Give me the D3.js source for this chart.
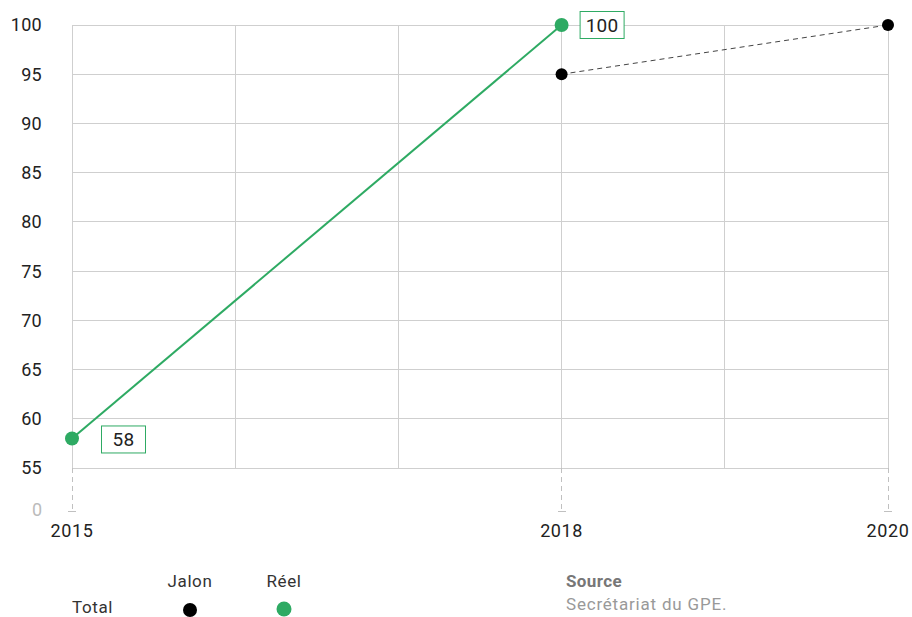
<!DOCTYPE html>
<html><head><meta charset="utf-8">
<script src="https://cdn.jsdelivr.net/npm/d3@7"></script>
<style>
body{margin:0;background:#fff;}
text{font-family:"Roboto","DejaVu Sans",sans-serif;}
</style></head>
<body><svg id="c" width="912" height="617"></svg>
<script>
const years = [2015, 2016, 2017, 2018, 2019, 2020];
const xTickYears = [2015, 2018, 2020];
const yTicks = [55, 60, 65, 70, 75, 80, 85, 90, 95, 100];
const reelYears = [2015, 2018];
const reelValues = [58, 100];
const jalonYears = [2018, 2020];
const jalonValues = [95, 100];
const legendLabels = ["Jalon", "Réel"];
const rowLabel = "Total";
const sourceTitle = "Source";
const sourceText = "Secrétariat du GPE.";

const svg = d3.select("#c");
const x = d3.scaleLinear().domain([2015, 2020]).range([72, 888]);
const y = d3.scaleLinear().domain([55, 100]).range([468, 25]);
const green = "#2eaa63";
const grid = "#cfcfcf";

svg.append("g").selectAll("line").data(yTicks).join("line")
  .attr("x1", x(2015)).attr("x2", x(2020))
  .attr("y1", d => y(d)).attr("y2", d => y(d))
  .attr("stroke", grid).attr("stroke-width", 1).attr("shape-rendering","crispEdges");
svg.append("g").selectAll("line").data(years).join("line")
  .attr("x1", d => x(d)).attr("x2", d => x(d))
  .attr("y1", y(100)).attr("y2", y(55))
  .attr("stroke", grid).attr("stroke-width", 1).attr("shape-rendering","crispEdges");

svg.append("g").selectAll("text").data(yTicks).join("text")
  .attr("x", 42).attr("y", d => y(d)).attr("dy", "0.36em")
  .attr("text-anchor", "end").attr("font-size", 18).attr("letter-spacing", 0.3).attr("fill", "#222")
  .text(d => d);
svg.append("text").attr("x", 42).attr("y", 510).attr("dy", "0.36em")
  .attr("text-anchor", "end").attr("font-size", 18).attr("fill", "#bbb").text("0");

const xt = svg.append("g").selectAll("g").data(xTickYears).join("g");
xt.append("line").attr("x1", d => x(d)).attr("x2", d => x(d))
  .attr("y1", y(55)).attr("y2", 511)
  .attr("stroke", "#c0c0c0").attr("stroke-dasharray", "5,4").attr("shape-rendering","crispEdges");
xt.append("line").attr("x1", d => x(d) - 4).attr("x2", d => x(d) + 4)
  .attr("y1", 511).attr("y2", 511).attr("stroke", "#c0c0c0").attr("shape-rendering","crispEdges");
xt.append("text").attr("x", d => x(d)).attr("y", 537)
  .attr("text-anchor", "middle").attr("font-size", 18).attr("letter-spacing", 0.6).attr("fill", "#222").text(d => d);

const jalon = jalonYears.map((d, i) => [d, jalonValues[i]]);
svg.append("path").datum(jalon)
  .attr("d", d3.line().x(d => x(d[0])).y(d => y(d[1])))
  .attr("fill", "none").attr("stroke", "#444").attr("stroke-width", 1).attr("stroke-dasharray", "5,4");
svg.append("g").selectAll("circle").data(jalon).join("circle")
  .attr("cx", d => x(d[0])).attr("cy", d => y(d[1])).attr("r", 6).attr("fill", "#000");

const reel = reelYears.map((d, i) => [d, reelValues[i]]);
svg.append("path").datum(reel)
  .attr("d", d3.line().x(d => x(d[0])).y(d => y(d[1])))
  .attr("fill", "none").attr("stroke", green).attr("stroke-width", 2);
svg.append("g").selectAll("circle").data(reel).join("circle")
  .attr("cx", d => x(d[0])).attr("cy", d => y(d[1])).attr("r", 7).attr("fill", green);

const lab = svg.append("g").selectAll("g").data(reel).join("g")
  .attr("transform", (d, i) => i === 0
    ? `translate(${x(d[0]) + 29},${y(d[1]) - 13})`
    : `translate(${x(d[0]) + 18},${y(d[1]) - 14})`);
lab.append("rect").attr("x", 0.5).attr("y", 0.5).attr("width", 44).attr("height", 27)
  .attr("fill", "#fff").attr("stroke", green).attr("stroke-width", 1);
lab.append("text").attr("x", 22.5).attr("y", 14).attr("dy", "0.36em")
  .attr("text-anchor", "middle").attr("font-size", 19).attr("letter-spacing", 0.3).attr("fill", "#222").text(d => d[1]);

svg.append("g").selectAll("text").data(legendLabels).join("text")
  .attr("x", (d, i) => i === 0 ? 190 : 284).attr("y", 587)
  .attr("text-anchor", "middle").attr("font-size", 17).attr("letter-spacing", 0.6).attr("fill", "#333").text(d => d);
svg.append("text").attr("x", 72).attr("y", 613).attr("font-size", 17).attr("letter-spacing", 0.6).attr("fill", "#333").text(rowLabel);
svg.append("circle").attr("cx", 190).attr("cy", 610).attr("r", 7).attr("fill", "#000");
svg.append("circle").attr("cx", 284).attr("cy", 609).attr("r", 7.5).attr("fill", green);

svg.append("text").attr("x", 566).attr("y", 587).attr("font-size", 17).attr("font-weight", "bold").attr("letter-spacing", 0.4)
  .attr("fill", "#777").text(sourceTitle);
svg.append("text").attr("x", 566).attr("y", 610).attr("font-size", 17).attr("letter-spacing", 0.8).attr("fill", "#999").text(sourceText);
</script></body></html>
